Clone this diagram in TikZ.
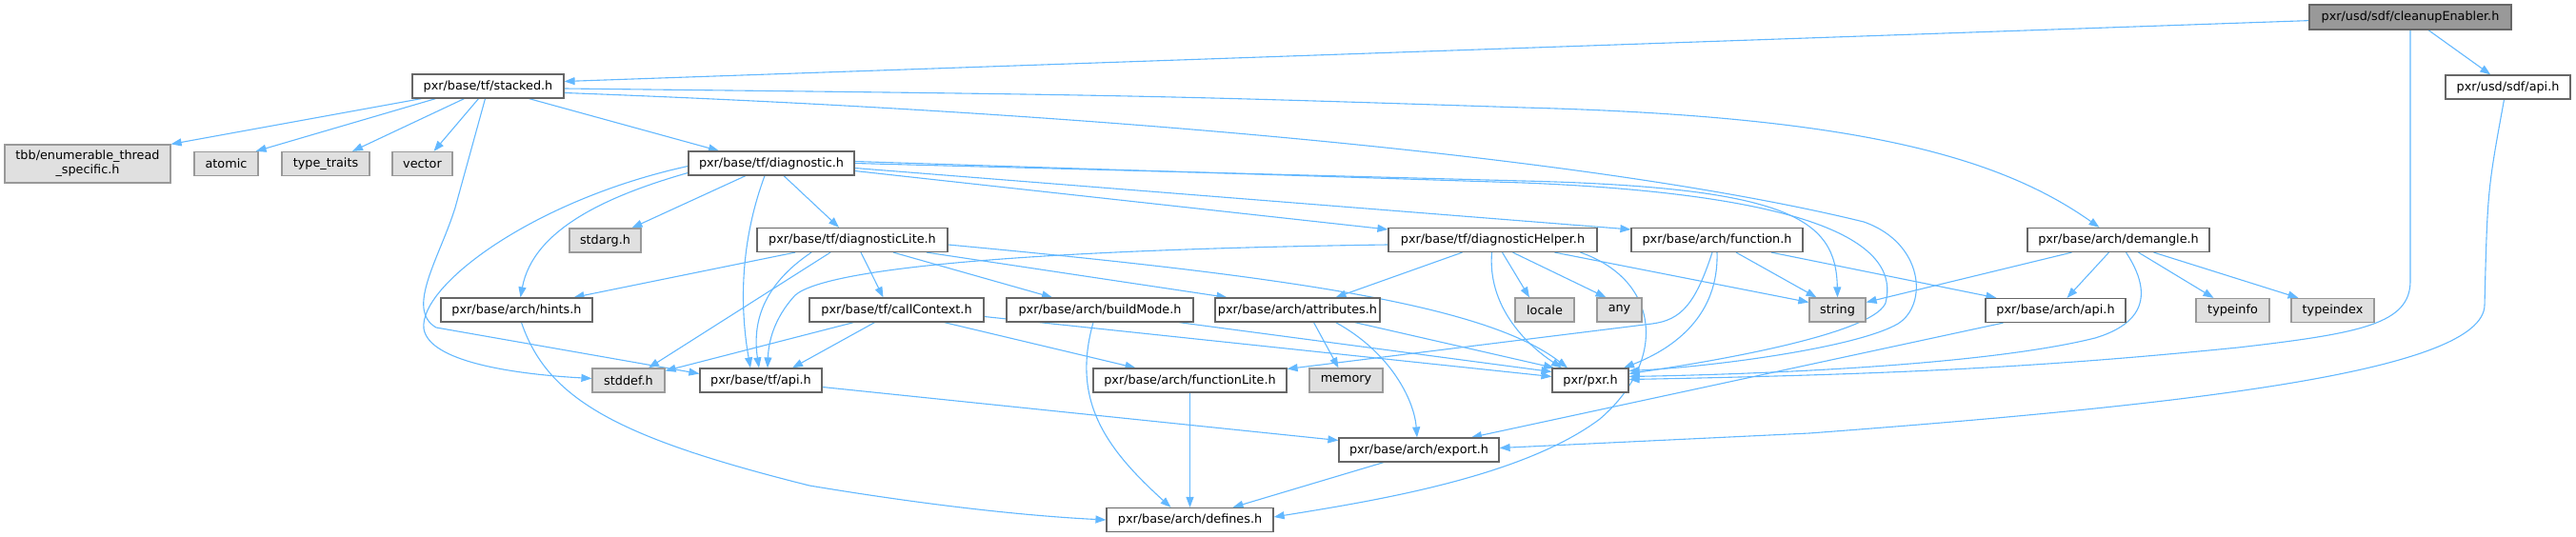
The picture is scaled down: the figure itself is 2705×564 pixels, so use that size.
\documentclass[tikz,border=0pt]{standalone}
\usepackage{fontspec}
\setmainfont{DejaVu Sans}
\usetikzlibrary{arrows.meta,backgrounds}
\definecolor{edgeblue}{HTML}{63B8FF}
\definecolor{boxgray}{HTML}{666666}
\definecolor{extgray}{HTML}{999999}
\definecolor{extfill}{HTML}{E0E0E0}
\definecolor{rootfill}{HTML}{999999}
\newcommand\dgfont{\fontsize{12.8}{15}\selectfont}
\begin{document}
\begin{tikzpicture}[x=1pt,y=-1pt,
  hdr/.style={draw=boxgray, fill=white, line width=1.2pt, minimum height=25pt, inner sep=0pt, font=\dgfont},
  ext/.style={hdr, draw=extgray, fill=extfill},
  rootbox/.style={hdr, fill=rootfill, draw=boxgray, minimum height=26pt},
  edge/.style={draw=edgeblue, line width=1.1pt, -{Triangle[length=11pt,width=8pt]}}]
\useasboundingbox (0,0) rectangle (2705,564);
% nodes
\node[rootbox, minimum width=212pt] (root) at (2531,18) {pxr/usd/sdf/cleanupEnabler.h};
\node[hdr, minimum width=131pt] (sdfapi) at (2633.5,91.5) {pxr/usd/sdf/api.h};
\node[hdr, minimum width=159pt] (stacked) at (512.5,90.5) {pxr/base/tf/stacked.h};
\node[ext, minimum width=174pt, minimum height=40pt, align=center] (tbb) at (92,172) {tbb/enumerable\_thread\\\_specific.h};
\node[ext, minimum width=67pt] (atomic) at (237.5,172) {atomic};
\node[ext, minimum width=92pt] (typetraits) at (342,172) {type\_traits};
\node[ext, minimum width=63pt] (vector) at (443.5,172) {vector};
\node[hdr, minimum width=174pt] (diag) at (810,171.5) {pxr/base/tf/diagnostic.h};
\node[ext, minimum width=75pt] (stdarg) at (635.5,252.5) {stdarg.h};
\node[hdr, minimum width=200pt] (diaglite) at (895,252) {pxr/base/tf/diagnosticLite.h};
\node[hdr, minimum width=219pt] (diaghelp) at (1567.5,252) {pxr/base/tf/diagnosticHelper.h};
\node[hdr, minimum width=180pt] (function) at (1803,252) {pxr/base/arch/function.h};
\node[hdr, minimum width=191pt] (demangle) at (2224.5,252) {pxr/base/arch/demangle.h};
\node[hdr, minimum width=159pt] (hints) at (542.5,325.5) {pxr/base/arch/hints.h};
\node[hdr, minimum width=183pt] (callctx) at (941.5,325.5) {pxr/base/tf/callContext.h};
\node[hdr, minimum width=196pt] (buildmode) at (1155,325.5) {pxr/base/arch/buildMode.h};
\node[hdr, minimum width=173pt] (attrs) at (1362.5,325.5) {pxr/base/arch/attributes.h};
\node[ext, minimum width=62pt] (locale) at (1622,325.5) {locale};
\node[ext, minimum width=47pt] (any) at (1700.5,325.5) {any};
\node[ext, minimum width=59pt] (string) at (1929.5,325.5) {string};
\node[hdr, minimum width=147pt] (archapi) at (2158.5,326) {pxr/base/arch/api.h};
\node[ext, minimum width=77pt] (typeinfo) at (2344.5,326) {typeinfo};
\node[ext, minimum width=87pt] (typeindex) at (2449.5,326) {typeindex};
\node[ext, minimum width=76pt] (stddef) at (660,399.5) {stddef.h};
\node[hdr, minimum width=128pt] (tfapi) at (799,399.5) {pxr/base/tf/api.h};
\node[hdr, minimum width=203pt] (funclite) at (1249.5,399.5) {pxr/base/arch/functionLite.h};
\node[ext, minimum width=77pt] (memory) at (1413.5,399.5) {memory};
\node[hdr, minimum width=80pt] (pxr) at (1670,399.5) {pxr/pxr.h};
\node[hdr, minimum width=168pt] (export) at (1490,472.5) {pxr/base/arch/export.h};
\node[hdr, minimum width=175pt] (defines) at (1249.5,546) {pxr/base/arch/defines.h};
% edges
\begin{pgfonlayer}{background}
% root
\draw[edge] (root) -- ([yshift=5pt]stacked.east);
\draw[edge] (root) -- (sdfapi);
\draw[edge] (root.south) -- (2531,295) .. controls (2531,340) and (2480,350) .. (2350,365) .. controls (2150,385) and (2000,393) .. ([yshift=1pt]pxr.east);
% sdf api
\draw[edge] ([xshift=-4pt]sdfapi.south) .. controls (2612,200) .. (2609,320) .. controls (2609,390) and (2300,425) .. (1900,455) -- ([yshift=2pt]export.east);
% stacked
\draw[edge] ([xshift=-70pt]stacked.south) -- (tbb.north east);
\draw[edge] ([xshift=-55pt]stacked.south) -- ([xshift=-3pt]atomic.north east);
\draw[edge] ([xshift=-25pt]stacked.south) -- ([xshift=28pt]typetraits.north);
\draw[edge] ([xshift=-10pt]stacked.south) -- ([xshift=12pt]vector.north);
\draw[edge] ([xshift=-3pt]stacked.south) -- (478,218) .. controls (462,270) and (425,325) .. (458,344) -- ([yshift=7pt]tfapi.west);
\draw[edge] ([xshift=43pt]stacked.south) -- ([xshift=-55pt]diag.north);
\draw[edge] ([yshift=-2.5pt]stacked.east) .. controls (1200,100) .. (1600,113) .. controls (1950,122) and (2100,165) .. ([xshift=-20pt]demangle.north);
\draw[edge] ([yshift=-7pt]stacked.east) .. controls (1200,120) and (1700,170) .. (1957,233) .. controls (2020,255) and (2025,320) .. (1993,340) .. controls (1950,365) and (1800,385) .. ([yshift=10pt]pxr.east);
% diagnostic
\draw[edge] ([xshift=-27pt]diag.south) -- ([xshift=28pt]stdarg.north);
\draw[edge] ([yshift=-10pt]diag.west) .. controls (640,205) and (560,240) .. ([xshift=4pt]hints.north);
\draw[edge] ([yshift=-3pt]diag.west) .. controls (560,210) and (440,300) .. (445,345) .. controls (450,380) and (540,393) .. ([yshift=2pt]stddef.west);
\draw[edge] ([xshift=-7pt]diag.south) .. controls (775,260) and (778,330) .. ([xshift=-11pt]tfapi.north);
\draw[edge] ([xshift=13pt]diag.south) -- ([xshift=-14pt]diaglite.north);
\draw[edge] ([yshift=-8pt]diag.east) -- ([yshift=11pt]diaghelp.west);
\draw[edge] ([yshift=-5pt]diag.east) -- ([yshift=11pt]function.west);
\draw[edge] (diag.east) -- (1600,190) .. controls (1880,197) and (1928,230) .. (string.north);
\draw[edge] ([yshift=2pt]diag.east) -- (1600,192) .. controls (1920,205) and (1995,260) .. (1980,318) .. controls (1970,345) and (1850,372) .. ([yshift=7pt]pxr.east);
% diagnosticLite
\draw[edge] ([xshift=-60pt]diaglite.south) -- ([xshift=60pt]hints.north);
\draw[edge] ([xshift=-23pt]diaglite.south) -- ([xshift=21pt]stddef.north);
\draw[edge] ([xshift=-43pt]diaglite.south) .. controls (800,300) and (790,340) .. ([xshift=-2pt]tfapi.north);
\draw[edge] ([xshift=9pt]diaglite.south) -- ([xshift=-14pt]callctx.north);
\draw[edge] ([xshift=43pt]diaglite.south) -- ([xshift=-50pt]buildmode.north);
\draw[edge] ([xshift=78pt]diaglite.south) -- ([xshift=-74pt]attrs.north);
\draw[edge] ([yshift=-5pt]diaglite.east) .. controls (1350,290) and (1560,320) .. ([xshift=-24pt]pxr.north);
% callContext
\draw[edge] ([xshift=-45pt]callctx.south) -- ([yshift=10pt]stddef.east);
\draw[edge] ([xshift=-23pt]callctx.south) -- ([xshift=33pt]tfapi.north);
\draw[edge] ([xshift=50pt]callctx.south) -- ([xshift=-57pt]funclite.north);
\draw[edge] ([yshift=-7pt]callctx.east) -- ([yshift=4pt]pxr.west);
% buildMode
\draw[edge] ([xshift=-7pt]buildmode.south) .. controls (1125,420) and (1160,470) .. ([xshift=-20pt]defines.north);
\draw[edge] ([xshift=83pt]buildmode.south) -- ([yshift=9pt]pxr.west);
% attributes
\draw[edge] ([xshift=17pt]attrs.south) -- ([xshift=-8pt]memory.north);
\draw[edge] ([xshift=40pt]attrs.south) .. controls (1460,370) and (1485,420) .. ([xshift=-2pt]export.north);
\draw[edge] ([xshift=60pt]attrs.south) -- ([xshift=-38pt]pxr.north);
% diagnosticHelper
\draw[edge] ([yshift=-5pt]diaghelp.west) .. controls (1100,262) and (870,280) .. (835,310) .. controls (812,335) and (807,360) .. ([xshift=7pt]tfapi.north);
\draw[edge] ([xshift=-32pt]diaghelp.south) -- ([xshift=40pt]attrs.north);
\draw[edge] ([xshift=-1pt]diaghelp.south) .. controls (1562,320) and (1600,360) .. ([xshift=-30pt]pxr.north);
\draw[edge] ([xshift=10pt]diaghelp.south) -- ([xshift=-16pt]locale.north);
\draw[edge] ([xshift=21pt]diaghelp.south) -- ([xshift=-14pt]any.north);
\draw[edge] ([xshift=65pt]diaghelp.south) -- ([yshift=8pt]string.west);
\draw[edge] ([xshift=92pt]diaghelp.south) .. controls (1745,295) and (1750,380) .. (1680,440) .. controls (1600,500) and (1450,525) .. ([yshift=3pt]defines.east);
% function
\draw[edge] ([xshift=-5pt]function.south) .. controls (1780,320) and (1765,336) .. (1735,340) -- ([yshift=12pt]funclite.east);
\draw[edge] (function.south) .. controls (1805,330) and (1760,365) .. ([xshift=35pt]pxr.north);
\draw[edge] ([xshift=20pt]function.south) -- ([xshift=-22pt]string.north);
\draw[edge] ([xshift=57pt]function.south) -- ([xshift=12pt]archapi.north west);
% demangle
\draw[edge] ([xshift=-49pt]demangle.south) -- ([yshift=8pt]string.east);
\draw[edge] ([xshift=-10pt]demangle.south) -- ([xshift=12pt]archapi.north);
\draw[edge] ([xshift=8pt]demangle.south) .. controls (2262,310) and (2250,340) .. (2200,355) .. controls (2100,380) and (1900,392) .. ([yshift=4pt]pxr.east);
\draw[edge] ([xshift=21pt]demangle.south) -- ([xshift=-20pt]typeinfo.north);
\draw[edge] ([xshift=37pt]demangle.south) -- ([xshift=-36pt]typeindex.north);
% others
\draw[edge] ([xshift=-55pt]archapi.south) -- ([xshift=55pt]export.north);
\draw[edge] ([xshift=5pt]hints.south) .. controls (575,420) and (650,460) .. (850,510) .. controls (1000,535) and (1100,543) .. (defines.west);
\draw[edge] ([yshift=-7pt]tfapi.east) -- ([yshift=10pt]export.west);
\draw[edge] (funclite) -- (defines);
\draw[edge] ([xshift=-37pt]export.south) -- ([xshift=45pt]defines.north);
\end{pgfonlayer}
\end{tikzpicture}
\end{document}
